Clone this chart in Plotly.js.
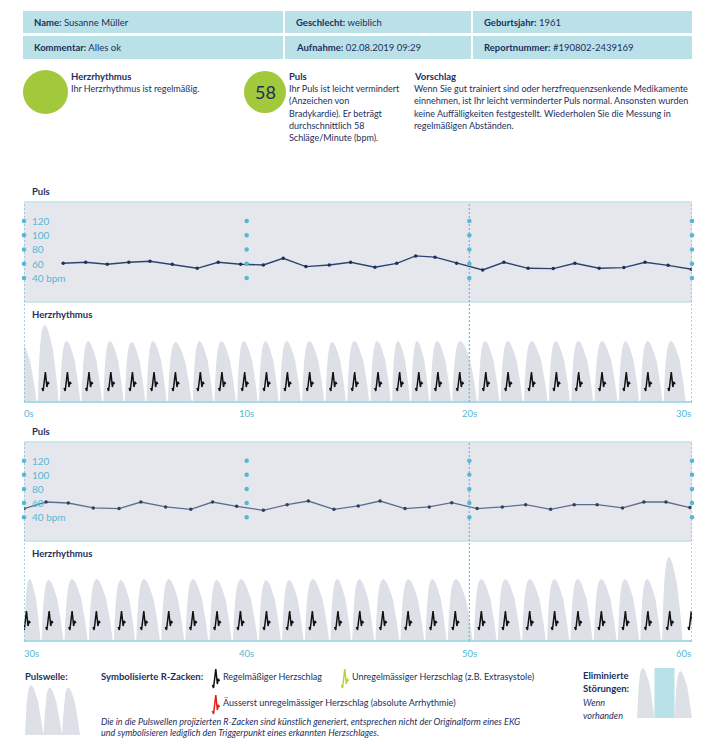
<!DOCTYPE html>
<html>
<head>
<meta charset="utf-8">
<script src="https://cdn.plot.ly/plotly-3.0.1.min.js"></script>
<style>
html,body{margin:0;padding:0;background:#ffffff;}
#chart{width:718px;height:744px;}
</style>
</head>
<body>
<div id="chart"></div>
<script>
// ---------------- data ----------------
const BEAT_TIMES = [-0.2, 0.97, 1.96, 2.93, 3.91, 4.88, 5.85, 6.81, 7.93, 8.90,
  9.92, 10.90, 11.84, 12.84, 13.89, 14.86, 15.91, 16.88, 17.74, 18.60,
  19.58, 20.75, 21.75, 22.80, 23.92, 24.92, 25.97, 27.06, 28.03, 29.08,
  30.12, 31.14, 32.17, 33.26, 34.39, 35.39, 36.51, 37.60, 38.68, 39.73,
  40.90, 41.94, 42.96, 44.11, 45.09, 46.13, 47.26, 48.38, 49.38, 50.55,
  51.63, 52.72, 53.84, 54.89, 55.94, 57.02, 58.03, 59.01, 59.98];
const BEAT_AMPS = [62, 77, 61, 61, 61, 60, 61, 60, 61, 61,
  61, 61, 61, 61, 60, 61, 61, 61, 61, 61,
  61, 61, 61, 61, 61, 61, 61, 61, 61, 61,
  62, 61, 62, 62, 61, 62, 62, 62, 61, 62,
  61, 61, 62, 62, 62, 62, 62, 62, 62, 62,
  62, 62, 62, 62, 62, 62, 62, 84, 0];

const PULS_T1 = [1.76, 2.77, 3.74, 4.71, 5.66, 6.66, 7.78, 8.72, 9.73, 10.75,
  11.64, 12.66, 13.71, 14.67, 15.76, 16.74, 17.59, 18.46, 19.43, 20.60,
  21.55, 22.64, 23.77, 24.74, 25.83, 26.94, 27.89, 28.93, 29.98];
const PULS_BPM1 = [60.6, 62.0, 59.2, 62.0, 63.4, 59.2, 53.6, 62.0, 59.2, 58.2,
  67.6, 55.9, 58.2, 62.0, 55.0, 60.6, 70.9, 69.1, 60.6, 51.2,
  62.0, 53.6, 53.1, 60.6, 53.6, 54.5, 62.0, 57.8, 52.2];
const PULS_T2 = [30.0, 30.99, 31.99, 33.11, 34.27, 35.25, 36.36, 37.49, 38.47, 39.55,
  40.75, 41.82, 42.77, 43.92, 45.01, 45.99, 47.11, 48.20, 49.21, 50.35,
  51.48, 52.53, 53.65, 54.71, 55.74, 56.88, 57.84, 58.83, 59.91];
const PULS_BPM2 = [52.2, 61.5, 60.1, 53.1, 52.2, 61.5, 54.5, 51.2, 61.5, 55.4,
  49.8, 57.8, 62.9, 51.2, 55.9, 62.9, 52.2, 54.5, 60.6, 52.2,
  54.5, 57.8, 51.2, 57.8, 57.8, 53.1, 61.5, 61.5, 53.6];

const PULS_TICKS = [40, 60, 80, 100, 120];
const PULS_TICK_TEXT = ['40 bpm', '60', '80', '100', '120'];
const TIME_TICKS_1 = [0, 10, 20, 30];
const TIME_TICK_TEXT_1 = ['0s', '10s', '20s', '30s'];
const TIME_TICKS_2 = [30, 40, 50, 60];
const TIME_TICK_TEXT_2 = ['30s', '40s', '50s', '60s'];

// pulse-wave template (one beat, normalised) and R-spike glyph template
const WAVE_U = [0, 0.04, 0.10, 0.17, 0.25, 0.33, 0.41, 0.50, 0.60, 0.66, 0.72, 0.80, 0.88, 0.95, 1];
const WAVE_V = [0, 0.30, 0.65, 0.87, 0.97, 1.0, 0.98, 0.92, 0.82, 0.75, 0.68, 0.50, 0.32, 0.12, 0];
const SPIKE_DT = [-0.16, -0.11, -0.01, 0.06, 0.10, 0.16];
const SPIKE_DV = [14, 11, 30, 15, 20, 18];

// legend samples
const LEGEND_BEATS = [0, 1, 2];
const LEGEND_AMPS = [1, 0.95, 0.95];
const ELIM_BEATS = [0, 2.06];
const ELIM_AMPS = [1, 0.94];
const ELIM_SEGMENT = [0.6, 1.7];

// ---------------- helpers ----------------
const W = 718, H = 744;
const FONT = 'Lato, "Open Sans", sans-serif';
const NAVY = '#1c2f5e';
const TICKBLUE = '#55b8d3';
const RISE = 0.36, GAP = 0.39, TAIL = 0.6;
const PXS = (692 - 24) / 30;

function px(x) { return x / W; }
function py(y) { return 1 - y / H; }
function ydom(top, bottom) { return [1 - bottom / H, 1 - top / H]; }

function waveSeries(times, amps, t0, t1) {
  const xs = [], ys = [];
  for (let i = 0; i < times.length; i++) {
    const t = times[i];
    if (t >= t1) continue;
    let s = t - RISE;
    const e = (i + 1 < times.length) ? times[i + 1] - GAP : t + TAIL;
    if (t >= t0 && s < t0) s = t0;
    if (e < t0) continue;
    for (let k = 0; k < WAVE_U.length; k++) {
      xs.push(s + WAVE_U[k] * (e - s));
      ys.push(amps[i] * WAVE_V[k]);
    }
  }
  return { xs, ys };
}
function spikeSeries(times, t0, t1) {
  const xs = [], ys = [];
  times.forEach(t => {
    if (t < t0 || t >= t1) return;
    for (let k = 0; k < SPIKE_DT.length; k++) { xs.push(t + SPIKE_DT[k]); ys.push(SPIKE_DV[k]); }
    xs.push(null); ys.push(null);
  });
  return { xs, ys };
}

const traces = [];
const WAVE_FILL = '#dde0e6';

// heart rhythm panels
[[0, 30, 'x2', 'y2'], [30, 60, 'x4', 'y4']].forEach(([t0, t1, xa, ya]) => {
  const w = waveSeries(BEAT_TIMES, BEAT_AMPS, t0, t1);
  traces.push({ x: w.xs, y: w.ys, xaxis: xa, yaxis: ya, type: 'scatter', mode: 'lines',
    fill: 'tozeroy', fillcolor: WAVE_FILL, line: { width: 0, color: WAVE_FILL, shape: 'spline', smoothing: 0.6 }, hoverinfo: 'skip' });
  const s = spikeSeries(BEAT_TIMES, t0, t1);
  traces.push({ x: s.xs, y: s.ys, xaxis: xa, yaxis: ya, type: 'scatter', mode: 'lines',
    line: { width: 1.5, color: '#111111' }, connectgaps: false, hoverinfo: 'skip' });
});

// pulse lines
traces.push({ x: PULS_T1, y: PULS_BPM1, xaxis: 'x', yaxis: 'y', type: 'scatter', mode: 'lines+markers',
  line: { width: 1.3, color: '#2a4570' }, marker: { size: 3.5, color: '#1c2f5e' }, hoverinfo: 'skip' });
traces.push({ x: PULS_T2, y: PULS_BPM2, xaxis: 'x3', yaxis: 'y3', type: 'scatter', mode: 'lines+markers',
  line: { width: 1.3, color: '#5b6f93' }, marker: { size: 3.5, color: '#2a4068' }, hoverinfo: 'skip' });

// tick dots on pulse panels
[[TIME_TICKS_1, 'x', 'y'], [TIME_TICKS_2, 'x3', 'y3']].forEach(([tt, xa, ya]) => {
  const xs = [], ys = [];
  tt.forEach(t => PULS_TICKS.forEach(v => { xs.push(t); ys.push(v); }));
  traces.push({ x: xs, y: ys, xaxis: xa, yaxis: ya, type: 'scatter', mode: 'markers',
    marker: { size: 4.5, color: TICKBLUE }, cliponaxis: false, hoverinfo: 'skip' });
});

// legend pulse waves
{
  const w = waveSeries(LEGEND_BEATS, LEGEND_AMPS, -10, 10);
  traces.push({ x: w.xs, y: w.ys, xaxis: 'x5', yaxis: 'y5', type: 'scatter', mode: 'lines',
    fill: 'tozeroy', fillcolor: WAVE_FILL, line: { width: 0, color: WAVE_FILL }, hoverinfo: 'skip' });
  const xs = [], ys = [];
  ELIM_BEATS.forEach((b, i) => {
    const s = waveSeries([b], [ELIM_AMPS[i]], -10, 10);
    xs.push(...s.xs); ys.push(...s.ys);
  });
  traces.push({ x: xs, y: ys, xaxis: 'x6', yaxis: 'y6', type: 'scatter', mode: 'lines',
    fill: 'tozeroy', fillcolor: WAVE_FILL, line: { width: 0, color: WAVE_FILL }, hoverinfo: 'skip' });
}

// legend spike glyphs (overlay axis in page pixels)
[[216, 699, '#111111'], [345, 699, '#b8d334'], [216, 725, '#e0201b']].forEach(([cx, by, col]) => {
  traces.push({ x: SPIKE_DT.map(d => cx + d * PXS), y: SPIKE_DV.map(v => by - v),
    xaxis: 'x7', yaxis: 'y7', type: 'scatter', mode: 'lines', line: { width: 1.5, color: col }, hoverinfo: 'skip' });
});

// ---------------- layout ----------------
const shapes = [];
const annotations = [];
function txt(x, y, text, size, opts) {
  annotations.push(Object.assign({ xref: 'paper', yref: 'paper', x: px(x), y: py(y), text: text,
    showarrow: false, xanchor: 'left', yanchor: 'middle', borderpad: 0,
    font: { family: FONT, size: size || 9, color: NAVY } }, opts || {}));
}
function rect(x0, y0, x1, y1, fill) {
  shapes.push({ type: 'rect', xref: 'paper', yref: 'paper', x0: px(x0), x1: px(x1), y0: py(y1), y1: py(y0),
    fillcolor: fill, line: { width: 0 }, layer: 'below' });
}

// header
const HEAD = '#bae1e8';
rect(23, 11, 283, 33, HEAD); rect(285, 11, 471, 33, HEAD); rect(473, 11, 692, 33, HEAD);
rect(23, 36, 283, 59, HEAD); rect(285, 36, 471, 59, HEAD); rect(473, 36, 692, 59, HEAD);
txt(33, 22.5, '<b>Name:</b> Susanne Müller', 9.5);
txt(295, 22.5, '<b>Geschlecht:</b> weiblich', 9.5);
txt(483, 22.5, '<b>Geburtsjahr:</b> 1961', 9.5);
txt(33, 47.5, '<b>Kommentar:</b> Alles ok', 9.5);
txt(295, 47.5, '<b>Aufnahme:</b> 02.08.2019 09:29', 9.5);
txt(483, 47.5, '<b>Reportnummer:</b> #190802-2439169', 9.5);

// summary
const GREEN = '#a2c83b';
shapes.push({ type: 'circle', xref: 'paper', yref: 'paper', x0: px(23), x1: px(68), y0: py(114), y1: py(70),
  fillcolor: GREEN, line: { width: 0 } });
shapes.push({ type: 'circle', xref: 'paper', yref: 'paper', x0: px(244), x1: px(286), y0: py(113), y1: py(71),
  fillcolor: GREEN, line: { width: 0 } });
txt(265, 92, '58', 18, { xanchor: 'center' });
txt(70, 76, '<b>Herzrhythmus</b>', 9.5);
txt(70, 88.5, 'Ihr Herzrhythmus ist regelmäßig.', 9);
txt(288, 76, '<b>Puls</b>', 9.5);
['Ihr Puls ist leicht vermindert', '(Anzeichen von', 'Bradykardie). Er beträgt',
 'durchschnittlich 58', 'Schläge/Minute (bpm).'].forEach((l, i) => txt(288, 88.5 + i * 12.3, l, 9));
txt(413, 76, '<b>Vorschlag</b>', 9.5);
['Wenn Sie gut trainiert sind oder herzfrequenzsenkende Medikamente',
 'einnehmen, ist Ihr leicht verminderter Puls normal. Ansonsten wurden',
 'keine Auffälligkeiten festgestellt. Wiederholen Sie die Messung in',
 'regelmäßigen Abständen.'].forEach((l, i) => txt(413, 88.5 + i * 12.3, l, 9));

// chart panels
const PANEL_BG = '#e6e7ec';
const BORDER = '#bfe3ea';
function panel(xa, top, mid, bottom, t0, t1, lineTimes, tickTimes, tickText, ya) {
  shapes.push({ type: 'rect', xref: 'paper', yref: 'paper', x0: px(24), x1: px(692), y0: py(mid), y1: py(top),
    fillcolor: PANEL_BG, line: { width: 0 }, layer: 'below' });
  [[top, 1.5], [mid, 1.5], [bottom, 2.2]].forEach(([yy, w]) => {
    shapes.push({ type: 'line', xref: 'paper', yref: 'paper', x0: px(24), x1: px(692), y0: py(yy), y1: py(yy),
      line: { color: yy === bottom ? '#a9dbe6' : BORDER, width: w } });
  });
  lineTimes.forEach(t => {
    shapes.push({ type: 'line', xref: xa, yref: 'paper', x0: t, x1: t, y0: py(bottom), y1: py(top),
      line: { color: '#5fc0dc', width: 1.2, dash: '2px,2px' } });
  });
  PULS_TICKS.forEach((v, i) => {
    annotations.push({ xref: xa, yref: ya, x: t0, y: v, xshift: 7, text: PULS_TICK_TEXT[i], showarrow: false,
      xanchor: 'left', yanchor: 'middle', borderpad: 0, font: { family: FONT, size: 10, color: TICKBLUE } });
  });
  tickTimes.forEach((t, i) => {
    annotations.push({ xref: xa, yref: 'paper', x: t, y: py(bottom + 12), text: tickText[i], showarrow: false,
      xanchor: i === 0 ? 'left' : (i === tickTimes.length - 1 ? 'right' : 'center'), yanchor: 'middle',
      xshift: i === 0 ? -1 : 0, borderpad: 0, font: { family: FONT, size: 9.5, color: TICKBLUE } });
  });
  txt(31, top - 11, '<b>Puls</b>', 9.5);
  txt(31, mid + 12, '<b>Herzrhythmus</b>', 9.5);
}
panel('x', 202, 302, 402, 0, 30, [0, 20, 30], TIME_TICKS_1, TIME_TICK_TEXT_1, 'y');
panel('x3', 442, 541, 641, 30, 60, [30, 50, 60], TIME_TICKS_2, TIME_TICK_TEXT_2, 'y3');

// legend
txt(24, 676, '<b>Pulswelle:</b>', 9.5);
txt(100, 676, '<b>Symbolisierte R-Zacken:</b>', 9.5);
txt(222, 676, 'Regelmäßiger Herzschlag', 9);
txt(351, 676, 'Unregelmässiger Herzschlag (z.B. Extrasystole)', 9);
txt(222, 702, 'Äusserst unregelmässiger Herzschlag (absolute Arrhythmie)', 9);
txt(100, 721, '<i>Die in die Pulswellen projizierten R-Zacken sind künstlich generiert, entsprechen nicht der Originalform eines EKG</i>', 9);
txt(100, 732, '<i>und symbolisieren lediglich den Triggerpunkt eines erkannten Herzschlages.</i>', 9);
txt(582, 675, '<b>Eliminierte</b>', 9.5);
txt(582, 688, '<b>Störungen:</b>', 9.5);
txt(582, 702, '<i>Wenn</i>', 9);
txt(582, 715, '<i>vorhanden</i>', 9);
shapes.push({ type: 'rect', xref: 'x6', yref: 'y6 domain', x0: ELIM_SEGMENT[0], x1: ELIM_SEGMENT[1], y0: 0, y1: 1,
  fillcolor: '#b9e1e8', line: { width: 0 } });

const hid = { visible: false, fixedrange: true };
const layout = {
  width: W, height: H,
  margin: { l: 0, r: 0, t: 0, b: 0, pad: 0 },
  paper_bgcolor: '#ffffff', plot_bgcolor: 'rgba(0,0,0,0)',
  showlegend: false, hovermode: false,
  font: { family: FONT, color: NAVY },
  xaxis: Object.assign({ domain: [px(24), px(692)], range: [0, 30], anchor: 'y' }, hid),
  yaxis: Object.assign({ domain: ydom(202, 302), range: [6.3, 146.5], anchor: 'x' }, hid),
  xaxis2: Object.assign({ domain: [px(24), px(692)], range: [0, 30], anchor: 'y2' }, hid),
  yaxis2: Object.assign({ domain: ydom(302, 402), range: [0, 100], anchor: 'x2' }, hid),
  xaxis3: Object.assign({ domain: [px(24), px(692)], range: [30, 60], anchor: 'y3' }, hid),
  yaxis3: Object.assign({ domain: ydom(442, 541), range: [6.3, 146.5], anchor: 'x3' }, hid),
  xaxis4: Object.assign({ domain: [px(24), px(692)], range: [30, 60], anchor: 'y4' }, hid),
  yaxis4: Object.assign({ domain: ydom(541, 641), range: [0, 100], anchor: 'x4' }, hid),
  xaxis5: Object.assign({ domain: [px(25), px(80)], range: [-0.36, 2.6], anchor: 'y5' }, hid),
  yaxis5: Object.assign({ domain: ydom(685, 735), range: [0, 1], anchor: 'x5' }, hid),
  xaxis6: Object.assign({ domain: [px(637), px(692)], range: [-0.36, 2.66], anchor: 'y6' }, hid),
  yaxis6: Object.assign({ domain: ydom(668, 718), range: [0, 1], anchor: 'x6' }, hid),
  xaxis7: Object.assign({ domain: [0, 1], range: [0, W], anchor: 'y7' }, hid),
  yaxis7: Object.assign({ domain: [0, 1], range: [H, 0], anchor: 'x7' }, hid),
  shapes: shapes,
  annotations: annotations
};

Plotly.newPlot('chart', traces, layout, { staticPlot: true, displayModeBar: false });
</script>
</body>
</html>
